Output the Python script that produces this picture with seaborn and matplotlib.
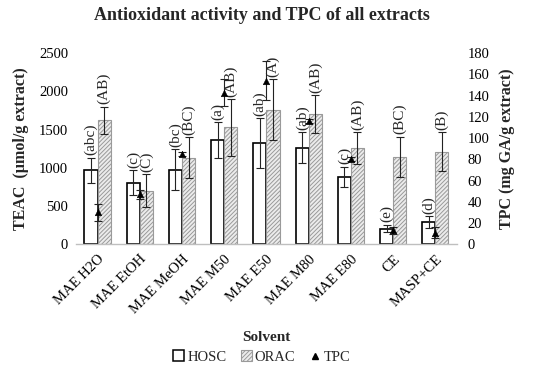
import numpy as np
import pandas as pd
import matplotlib
matplotlib.use('Agg')
import matplotlib.pyplot as plt
import seaborn as sns
from matplotlib.patches import Patch
from matplotlib.lines import Line2D

# values
solvents = ['MAE H2O', 'MAE EtOH', 'MAE MeOH', 'MAE M50', 'MAE E50',
            'MAE M80', 'MAE E80', 'CE', 'MASP+CE']
hosc = [970, 805, 975, 1365, 1325, 1265, 880, 205, 290]
hosc_err = [165, 165, 270, 230, 330, 200, 135, 50, 75]
orac = [1620, 700, 1135, 1530, 1760, 1705, 1255, 1145, 1210]
orac_err = [180, 215, 270, 370, 400, 250, 210, 265, 255]
tpc = [30, 47, 85, 143, 154, 116, 80, 13, 11]
tpc_err = [8, 4, 2, 13, 18.5, 2, 2, 3, 5]
hosc_letters = ['(abc)', '(c)', '(bc)', '(a)', '(ab)', '(ab)', '(c)', '(e)', '(d)']
orac_letters = ['(AB)', '(C)', '(BC)', '(AB)', '(A)', '(AB)', '(AB)', '(BC)', '(B)']

sns.set_theme(style='white')
plt.rcParams['font.family'] = ['Liberation Serif', 'DejaVu Serif']
plt.rcParams['hatch.linewidth'] = 0.7

df = pd.DataFrame({
    'Solvent': solvents * 2,
    'Assay': ['HOSC'] * len(solvents) + ['ORAC'] * len(solvents),
    'TEAC': hosc + orac,
})

fig, ax = plt.subplots(figsize=(5.5, 3.7), dpi=100)
fig.subplots_adjust(left=0.139, right=0.830, bottom=0.34, top=0.856)

sns.barplot(data=df, x='Solvent', y='TEAC', hue='Assay', palette=['white', 'white'],
            width=0.62, errorbar=None, saturation=1, legend=False, ax=ax)

hosc_bars, orac_bars = ax.containers[0], ax.containers[1]
for p in hosc_bars:
    p.set_edgecolor('black')
    p.set_linewidth(1.2)
for p in orac_bars:
    p.set_facecolor('#ececec')
    p.set_edgecolor('#9a9a9a')
    p.set_hatch('////////')
    p.set_linewidth(0.8)

# error bars and significance letters
for bars, vals, errs, letters in [(hosc_bars, hosc, hosc_err, hosc_letters),
                                  (orac_bars, orac, orac_err, orac_letters)]:
    for p, v, e, lab in zip(bars, vals, errs, letters):
        xc = p.get_x() + p.get_width() / 2
        ax.errorbar(xc, v, yerr=e, fmt='none', ecolor='#222222', elinewidth=0.8, capsize=3, capthick=0.8)
        ax.text(xc, v + e + 30, lab, rotation=90, ha='center', va='bottom', fontsize=11)

ax.set_ylim(0, 2500)
ax.set_yticks(range(0, 2501, 500))
ax.set_xlim(-0.5, len(solvents) - 0.5)

# TPC on secondary axis
ax2 = ax.twinx()
xpos = np.arange(len(solvents))
ax2.errorbar(xpos, tpc, yerr=tpc_err, fmt='none', ecolor='#222222', elinewidth=0.8, capsize=3, capthick=0.8)
sns.scatterplot(x=xpos, y=tpc, marker='^', color='black', s=22, edgecolor='black', ax=ax2, zorder=5)
ax2.set_ylim(0, 180)
ax2.set_yticks(range(0, 181, 20))

for a in (ax, ax2):
    for s in a.spines.values():
        s.set_visible(False)
    a.tick_params(axis='both', length=0, labelsize=10.5, colors='black')
ax.spines['bottom'].set_visible(True)
ax.spines['bottom'].set_color('#bfbfbf')
ax.spines['bottom'].set_linewidth(1)

ax.set_xticks(range(len(solvents)))
ax.set_xticklabels(solvents, rotation=45, ha='right', rotation_mode='anchor', fontsize=10.5)
ax.tick_params(axis='x', pad=6)
ax.tick_params(axis='y', pad=6)
ax2.tick_params(axis='y', pad=8)

ax.set_ylabel('TEAC  (µmol/g extract)', fontsize=11.5, fontweight='bold', labelpad=7)
ax2.set_ylabel('TPC (mg GA/g extract)', fontsize=11.5, fontweight='bold', labelpad=7)
ax.set_xlabel('Solvent', fontsize=11, fontweight='bold')
ax.xaxis.set_label_coords(0.5, -0.455)

fig.text(262 / 550, 1 - 16 / 370, 'Antioxidant activity and TPC of all extracts',
         ha='center', va='center', fontsize=13, fontweight='bold')

handles = [
    Patch(facecolor='white', edgecolor='black', linewidth=1.1, label='HOSC'),
    Patch(facecolor='#ececec', edgecolor='#9a9a9a', hatch='////////', linewidth=0.8, label='ORAC'),
    Line2D([], [], marker='^', color='black', linestyle='none', markersize=4, label='TPC'),
]
fig.legend(handles=handles, loc='center', bbox_to_anchor=(262 / 550, 1 - 357 / 370), ncol=3,
           frameon=False, prop={'family': 'Liberation Serif', 'size': 10.5},
           handlelength=0.75, handleheight=0.75, handletextpad=0.2, columnspacing=1.0)

fig.savefig('out.png', dpi=100)
